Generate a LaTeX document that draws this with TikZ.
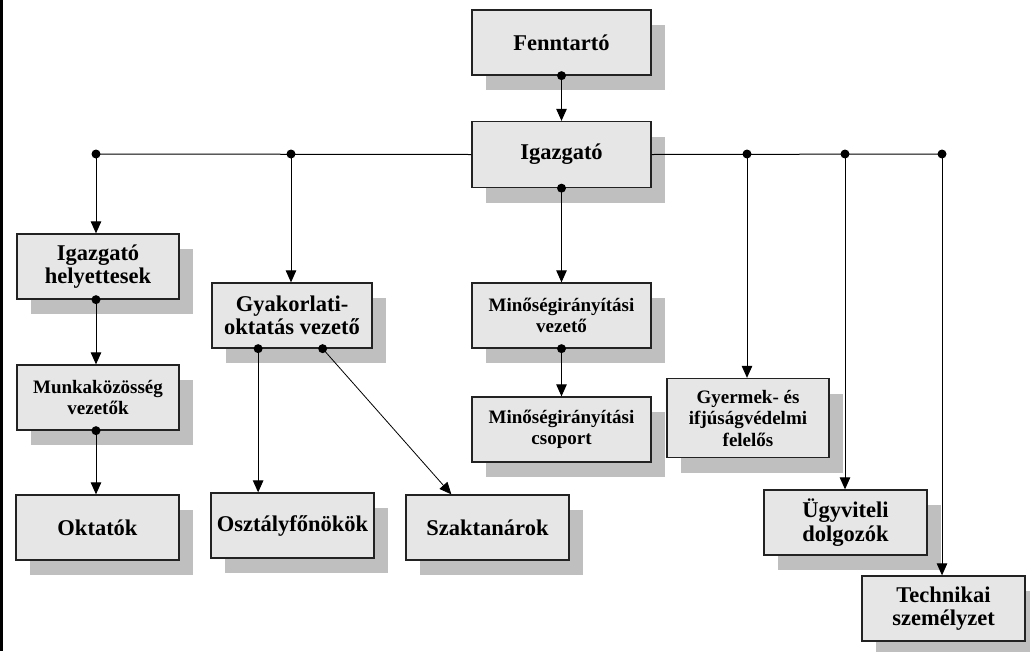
\documentclass[tikz,border=0pt]{standalone}
\usepackage{fontspec}
\setmainfont{Liberation Serif}
\usetikzlibrary{shadows,arrows.meta,calc}
\definecolor{boxgray}{HTML}{E6E6E6}
\definecolor{shadowgray}{HTML}{BFBFBF}
\definecolor{edgegray}{HTML}{222222}
\begin{document}
\begin{tikzpicture}[x=1pt,y=-1pt,
  orgbox/.style={draw=edgegray, line width=1.3pt, fill=boxgray, align=center,
    minimum width=163pt, minimum height=65pt, inner sep=2pt,
    font=\bfseries\fontsize{22.5}{23.5}\selectfont,
    drop shadow={shadow xshift=14pt, shadow yshift=-15pt, fill=shadowgray, opacity=1}},
  smallbox/.style={orgbox, font=\bfseries\fontsize{19}{21.5}\selectfont},
  conn/.style={draw=black, line width=1pt},
  arr/.style={conn, -{Triangle[length=12pt,width=10.5pt]}},
  jdot/.style={circle, fill=black, inner sep=0pt, minimum size=9pt}
]
\useasboundingbox (0,0) rectangle (1030,651);
\fill[white] (0,0) rectangle (1030,651);
\fill[black] (0,0) rectangle (3,651);

% boxes
\node[orgbox, minimum width=179pt] (fenn) at (561.5,42.5) {Fenntartó};
\node[orgbox, minimum width=179pt, minimum height=66pt] (igaz) at (561.5,154.5) {Igazgató};
\node[orgbox, minimum width=162pt] (hely) at (98,266.5) {Igazgató\\helyettesek};
\node[orgbox, minimum width=160pt] (gyak) at (292,315.5) {Gyakorlati-\\oktatás vezető};
\node[smallbox, minimum width=179pt] (minvez) at (561.5,315.5) {Minőségirányítási\\vezető};
\node[smallbox, minimum width=162pt] (munka) at (98,397.5) {Munkaközösség\\vezetők};
\node[smallbox, minimum width=179pt] (mincsop) at (561.5,429.5) {Minőségirányítási\\csoport};
\node[smallbox, minimum width=162pt, minimum height=79pt] (gyerm) at (748,418) {Gyermek- és\\ifjúságvédelmi\\felelős};
\node[orgbox] (okt) at (97.5,527.5) {Oktatók};
\node[orgbox] (oszt) at (292.5,525.5) {Osztályfőnökök};
\node[orgbox] (szak) at (487.5,527.5) {Szaktanárok};
\node[orgbox] (ugyv) at (845.5,522.5) {Ügyviteli\\dolgozók};
\node[orgbox] (tech) at (943.5,608.5) {Technikai\\személyzet};

% junctions on the main horizontal line
\coordinate (j1) at (96,154);
\coordinate (j2) at (291,154);
\coordinate (j3) at (747,154);
\coordinate (j4) at (845,154);
\coordinate (j5) at (942,154);
\coordinate (g1) at ($(gyak.south west)!0.29!(gyak.south east)$);
\coordinate (g2) at ($(gyak.south west)!0.69!(gyak.south east)$);
\coordinate (s1) at ($(szak.north west)!0.28!(szak.north east)$);

% connectors
\draw[arr] (fenn.south) -- (igaz.north);
\draw[conn] (igaz.west) -- (j1);
\draw[conn] (igaz.east) -- (j5);
\draw[arr] (j1) -- (j1 |- hely.north);
\draw[arr] (j2) -- (j2 |- gyak.north);
\draw[arr] (j3) -- (j3 |- gyerm.north);
\draw[arr] (j4) -- (j4 |- ugyv.north);
\draw[arr] (j5) -- (j5 |- tech.north);
\draw[arr] (igaz.south) -- (minvez.north);
\draw[arr] (minvez.south) -- (mincsop.north);
\draw[arr] (hely.south -| j1) -- (j1 |- munka.north);
\draw[arr] (munka.south -| j1) -- (j1 |- okt.north);
\draw[arr] (g1) -- (g1 |- oszt.north);
\draw[arr, line width=0.8pt] (g2) -- (s1);

% dots
\foreach \p in {j1,j2,j3,j4,j5,g1,g2,fenn.south,igaz.south,minvez.south}
  \node[jdot] at (\p) {};
\node[jdot] at (hely.south -| j1) {};
\node[jdot] at (munka.south -| j1) {};
\end{tikzpicture}
\end{document}
